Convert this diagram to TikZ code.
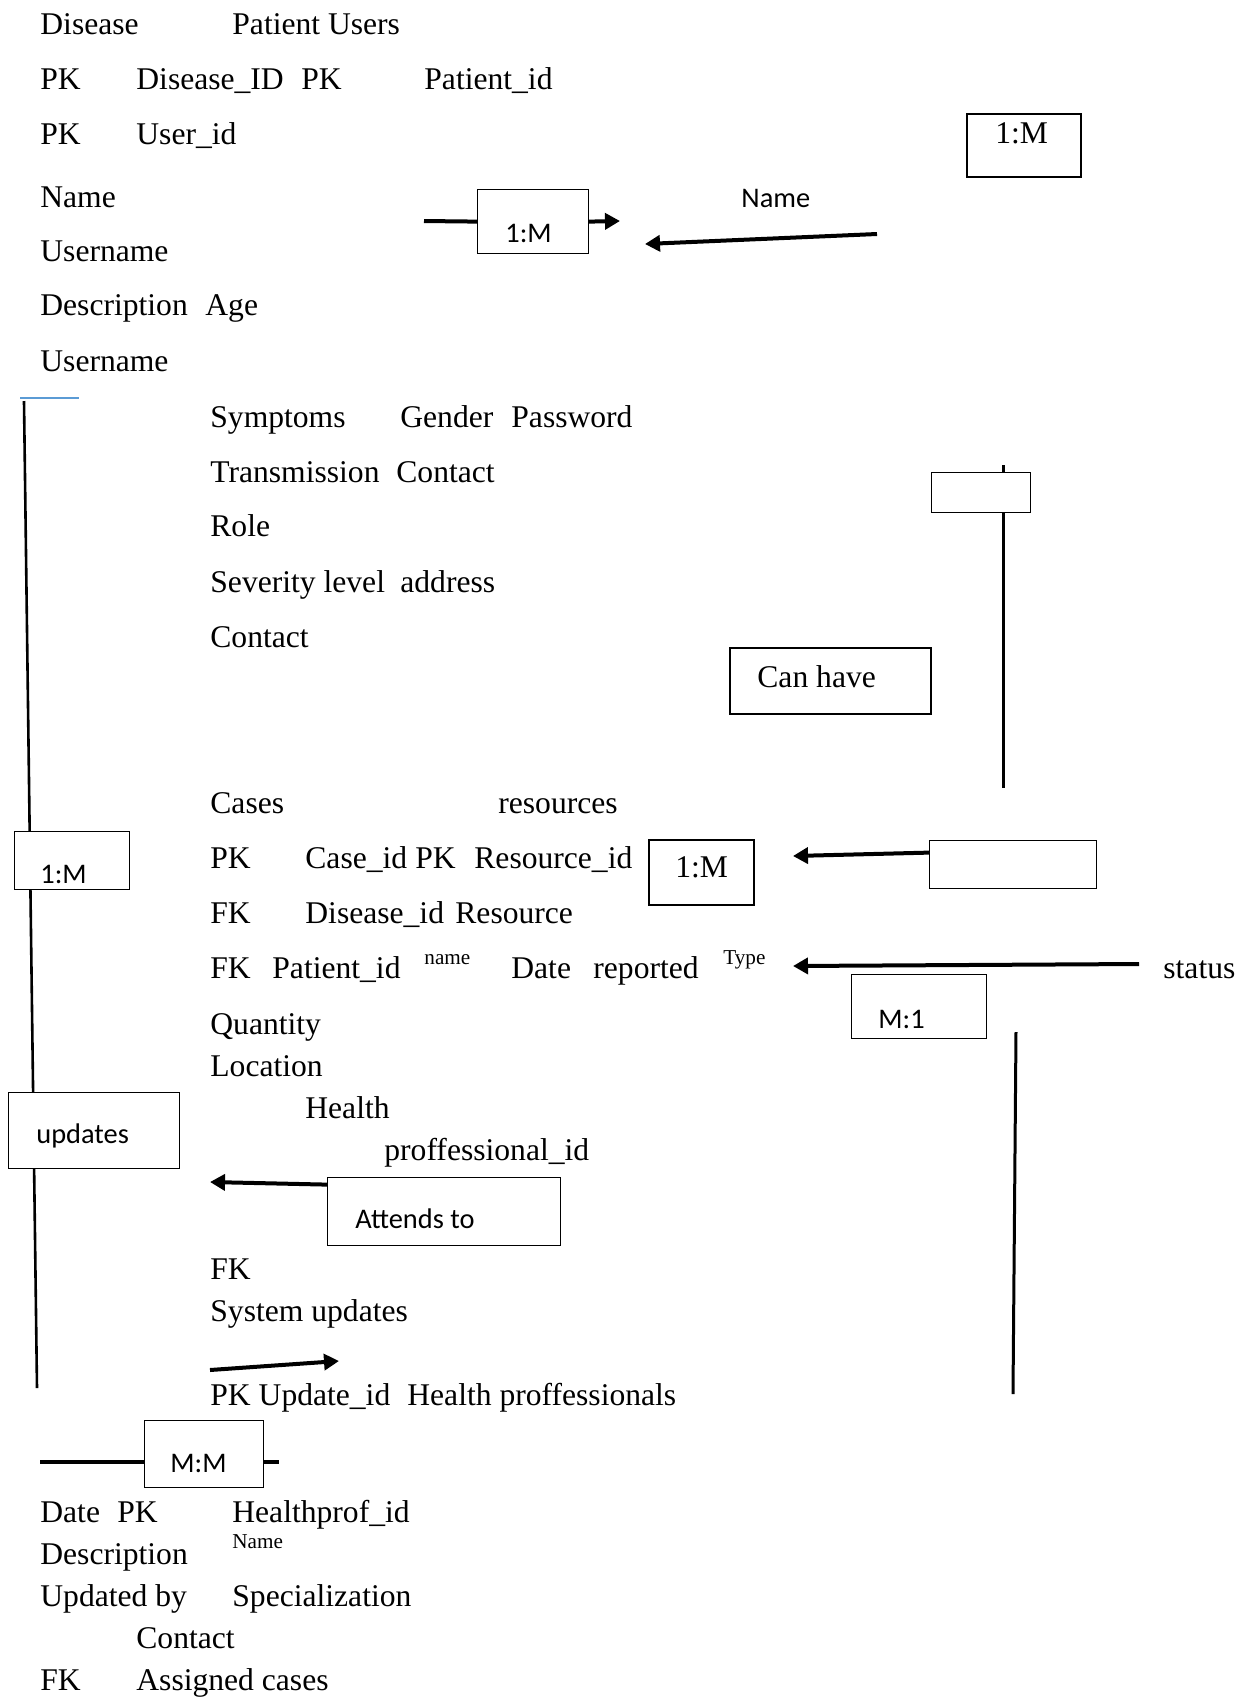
\documentclass[tikz,border=0pt]{standalone}
\usepackage{fontspec}
\setmainfont{Liberation Serif}
\newfontfamily\sansf{Carlito}
\usetikzlibrary{arrows.meta}
\definecolor{wordblue}{RGB}{91,155,213}
\begin{document}
\begin{tikzpicture}[x=0.5pt,y=-0.5pt,
  txt/.style={anchor=base west, inner sep=0pt, font=\fontsize{15.8}{18}\selectfont},
  sm/.style={anchor=base west, inner sep=0pt, font=\fontsize{10.6}{12}\selectfont},
  stxt/.style={anchor=base west, inner sep=0pt, font=\sansf\fontsize{14.2}{16}\selectfont},
  box/.style={draw, fill=white, line width=0.6pt, anchor=north west, inner sep=0pt},
  bbox/.style={box, line width=0.9pt},
  arr/.style={line width=2pt, -{Triangle[length=7.5pt,width=8pt]}},
  plain/.style={line width=2pt},
  vline/.style={line width=1.3pt}]
\useasboundingbox (0,0) rectangle (1243,1699);

% ---------- free end coordinates ----------
\coordinate (blA) at (20,398);
\coordinate (blB) at (79,398);
\coordinate (lvA) at (24,401);
\coordinate (lvB) at (37,1388);
\coordinate (rvA) at (1003,465);
\coordinate (rvB) at (1003,788);
\coordinate (rwA) at (1016,1032);
\coordinate (rwB) at (1013,1394);
\coordinate (topL) at (424,221);
\coordinate (topR) at (620,221);
\coordinate (nmA) at (877,234);
\coordinate (nmB) at (645,244);
\coordinate (rsB) at (793,856);
\coordinate (stA) at (1139,964);
\coordinate (stB) at (793,966);
\coordinate (atB) at (210,1182);
\coordinate (suA) at (210,1370);
\coordinate (suB) at (339,1361);
\coordinate (mmL) at (40,1462);
\coordinate (mmR) at (279,1462);

% ---------- lines behind boxes ----------
\draw[wordblue, line width=0.8pt] (blA) -- (blB);
\draw[vline] (lvA) -- (lvB);
\draw[line width=1.5pt] (rvA) -- (rvB);
\draw[line width=1.5pt] (rwA) -- (rwB);
\draw[plain] (mmL) -- (mmR);

% ---------- boxes ----------
\node[box, minimum width=55.5pt, minimum height=32pt] (tb1) at (477,189) {};
\node[bbox, minimum width=57pt, minimum height=31.5pt] (tb2) at (966,113) {};
\node[box, minimum width=49.5pt, minimum height=20pt] (sbox) at (931,472) {};
\node[bbox, minimum width=100.5pt, minimum height=33pt] (canh) at (729,647) {};
\node[box, minimum width=57.75pt, minimum height=29pt] (lbox) at (13.5,831) {};
\node[bbox, minimum width=52.5pt, minimum height=32.5pt] (mbox) at (648,839) {};
\node[box, minimum width=83.5pt, minimum height=24pt] (rempty) at (929,840) {};
\node[box, minimum width=67.5pt, minimum height=32pt] (m1) at (851,974) {};
\node[box, minimum width=85.5pt, minimum height=38pt] (upd) at (8,1092) {};
\node[box, minimum width=116.5pt, minimum height=34pt] (att) at (327,1177) {};
\node[box, minimum width=59.75pt, minimum height=33.5pt] (mm) at (143.5,1420) {};

% ---------- box labels ----------
\node[stxt] (tb1t) at (505,242) {1:M};
\node[txt] (tb2t) at (995,143) {1:M};
\node[txt] (canht) at (757,687) {Can have};
\node[stxt] (lboxt) at (40,883) {1:M};
\node[txt] (mboxt) at (675,877) {1:M};
\node[stxt] (m1t) at (878,1028) {M:1};
\node[stxt] (updt) at (36,1143) {updates};
\node[stxt] (attt) at (355,1228) {Attends to};
\node[stxt] (mmt) at (170,1472) {M:M};
\node[stxt] (namet) at (741,207) {Name};

% ---------- connectors ----------
\draw[plain] (topL) -- (tb1.west);
\draw[arr] (tb1.east) -- (topR);
\draw[arr] (nmA) -- (nmB);
\draw[arr] ([yshift=6pt]rempty.west) -- (rsB);
\draw[arr] (stA) -- (stB);
\draw[arr] ([yshift=13.5pt]att.west) -- (atB);
\draw[arr] (suA) -- (suB);

% ---------- text ----------
\node[txt] (t1) at (40,34) {Disease};
\node[txt] (t2) at (232,34) {Patient Users};
\node[txt] (t3) at (40,89) {PK};
\node[txt] (t4) at (136,89) {Disease\_ID};
\node[txt] (t5) at (301,89) {PK};
\node[txt] (t6) at (424,89) {Patient\_id};
\node[txt] (t7) at (40,144) {PK};
\node[txt] (t8) at (136,144) {User\_id};
\node[txt] (t9) at (40,207) {Name};
\node[txt] (t10) at (40,261) {Username};
\node[txt] (t11) at (40,315) {Description};
\node[txt] (t12) at (205,315) {Age};
\node[txt] (t13) at (40,371) {Username};
\node[txt] (t14) at (210,427) {Symptoms};
\node[txt] (t15) at (400,427) {Gender};
\node[txt] (t16) at (511,427) {Password};
\node[txt] (t17) at (210,482) {Transmission};
\node[txt] (t18) at (396,482) {Contact};
\node[txt] (t19) at (210,536) {Role};
\node[txt] (t20) at (210,592) {Severity level};
\node[txt] (t21) at (400,592) {address};
\node[txt] (t22) at (210,647) {Contact};
\node[txt] (t23) at (210,813) {Cases};
\node[txt] (t24) at (498,813) {resources};
\node[txt] (t25) at (210,868) {PK};
\node[txt] (t26) at (305,868) {Case\_id};
\node[txt] (t27) at (415,868) {PK};
\node[txt] (t28) at (474,868) {Resource\_id};
\node[txt] (t29) at (210,923) {FK};
\node[txt] (t30) at (305,923) {Disease\_id};
\node[txt] (t31) at (455,923) {Resource};
\node[txt] (t32) at (210,978) {FK};
\node[txt] (t33) at (272,978) {Patient\_id};
\node[sm] (t34) at (424,964) {name};
\node[txt] (t35) at (511,978) {Date};
\node[txt] (t36) at (593,978) {reported};
\node[sm] (t37) at (723,964) {Type};
\node[txt] (t38) at (1163,978) {status};
\node[txt] (t39) at (210,1034) {Quantity};
\node[txt] (t40) at (210,1076) {Location};
\node[txt] (t41) at (305,1118) {Health};
\node[txt] (t42) at (384,1160) {proffessional\_id};
\node[txt] (t43) at (210,1279) {FK};
\node[txt] (t44) at (210,1321) {System updates};
\node[txt] (t45) at (210,1405) {PK Update\_id};
\node[txt] (t46) at (407,1405) {Health proffessionals};
\node[txt] (t47) at (40,1522) {Date};
\node[txt] (t48) at (117,1522) {PK};
\node[txt] (t49) at (232,1522) {Healthprof\_id};
\node[sm] (t50) at (232,1548) {Name};
\node[txt] (t51) at (40,1564) {Description};
\node[txt] (t52) at (40,1606) {Updated by};
\node[txt] (t53) at (232,1606) {Specialization};
\node[txt] (t54) at (136,1648) {Contact};
\node[txt] (t55) at (40,1690) {FK};
\node[txt] (t56) at (136,1690) {Assigned cases};
\end{tikzpicture}
\end{document}
